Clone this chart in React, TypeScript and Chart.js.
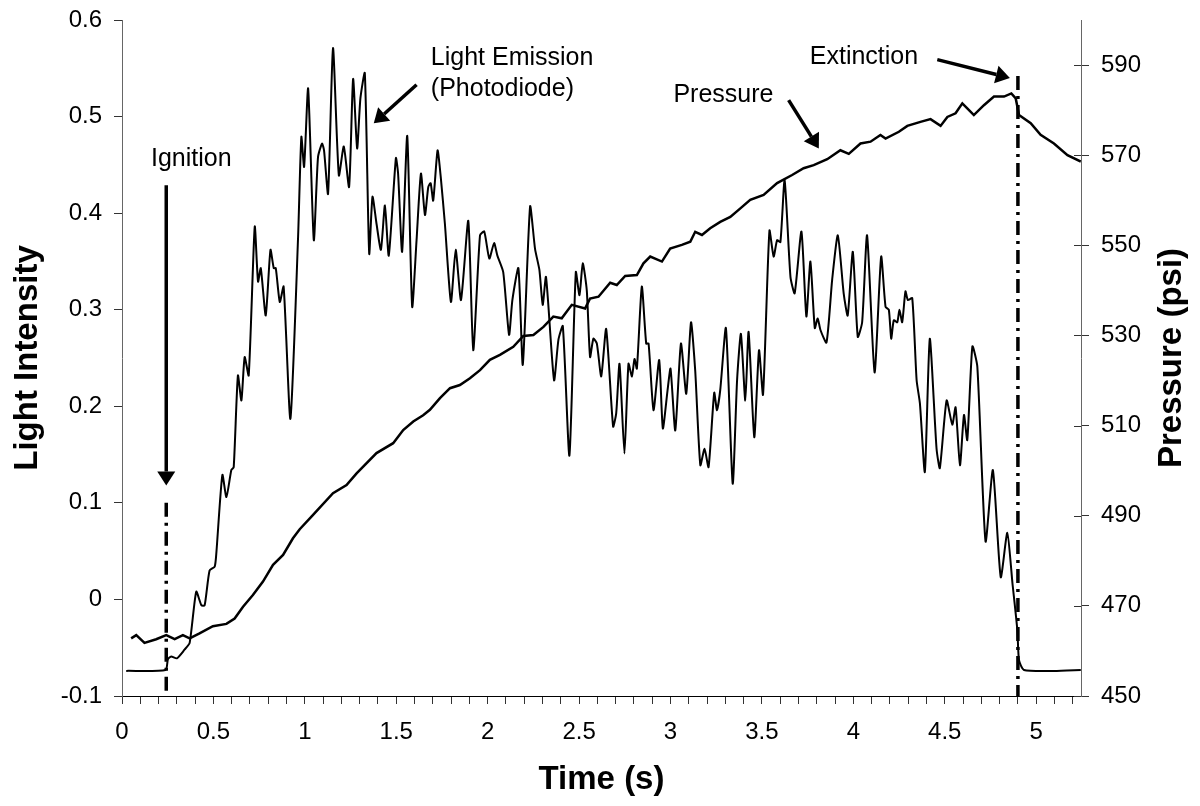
import React, { useEffect, useRef } from 'react';
import { Chart, registerables } from 'chart.js';

Chart.register(...registerables);

const FONT = '"Liberation Sans", Arial, Helvetica, sans-serif';

// ---- Light emission (photodiode), left axis ----
const lightTime = [
  0.023, 0.238, 0.251, 0.269, 0.300, 0.342, 0.370, 0.406, 0.434, 0.452,
  0.479, 0.507, 0.516, 0.549, 0.571, 0.598, 0.611, 0.634, 0.653, 0.671,
  0.693, 0.726, 0.744, 0.759, 0.786, 0.812, 0.830, 0.841, 0.863, 0.884,
  0.921, 0.963, 0.981, 0.996, 1.018, 1.049, 1.072, 1.094, 1.105, 1.127,
  1.154, 1.186, 1.213, 1.242, 1.264, 1.286, 1.304, 1.328, 1.352, 1.370,
  1.392, 1.416, 1.438, 1.459, 1.498, 1.510, 1.532, 1.560, 1.587, 1.611,
  1.635, 1.657, 1.675, 1.688, 1.702, 1.726, 1.743, 1.766, 1.799, 1.825,
  1.854, 1.894, 1.921, 1.958, 1.981, 2.009, 2.035, 2.053, 2.085, 2.117,
  2.135, 2.168, 2.192, 2.232, 2.259, 2.283, 2.301, 2.319, 2.363, 2.387,
  2.411, 2.447, 2.482, 2.502, 2.520, 2.542, 2.560, 2.578, 2.597, 2.621,
  2.648, 2.686, 2.703, 2.721, 2.748, 2.770, 2.789, 2.803, 2.816, 2.843,
  2.867, 2.880, 2.907, 2.938, 2.958, 2.984, 3.000, 3.026, 3.057, 3.086,
  3.112, 3.135, 3.163, 3.186, 3.208, 3.239, 3.254, 3.272, 3.303, 3.340,
  3.364, 3.385, 3.409, 3.427, 3.458, 3.484, 3.506, 3.541, 3.564, 3.583,
  3.601, 3.624, 3.656, 3.679, 3.716, 3.743, 3.765, 3.789, 3.805, 3.820,
  3.853, 3.884, 3.915, 3.947, 3.969, 3.997, 4.024, 4.048, 4.075, 4.116,
  4.152, 4.176, 4.194, 4.207, 4.221, 4.240, 4.252, 4.267, 4.285, 4.298,
  4.322, 4.346, 4.364, 4.391, 4.418, 4.455, 4.473, 4.510, 4.541, 4.559,
  4.583, 4.605, 4.623, 4.651, 4.678, 4.723, 4.763, 4.806, 4.842, 4.870,
  4.897, 4.906, 4.933, 5.098, 5.244,
];
const lightValue = [
  -0.074, -0.073, -0.062, -0.059, -0.061, -0.052, -0.045, 0.008, -0.006, -0.006,
  0.030, 0.034, 0.048, 0.129, 0.106, 0.134, 0.137, 0.232, 0.206, 0.251,
  0.232, 0.386, 0.329, 0.343, 0.294, 0.362, 0.343, 0.343, 0.308, 0.324,
  0.187, 0.375, 0.479, 0.448, 0.529, 0.372, 0.458, 0.472, 0.465, 0.420,
  0.571, 0.439, 0.469, 0.427, 0.539, 0.467, 0.519, 0.545, 0.358, 0.417,
  0.389, 0.362, 0.408, 0.356, 0.457, 0.441, 0.360, 0.480, 0.303, 0.372,
  0.441, 0.398, 0.427, 0.431, 0.413, 0.465, 0.438, 0.389, 0.308, 0.362,
  0.310, 0.392, 0.258, 0.377, 0.381, 0.353, 0.369, 0.356, 0.339, 0.274,
  0.310, 0.343, 0.243, 0.407, 0.363, 0.341, 0.305, 0.334, 0.227, 0.269,
  0.283, 0.149, 0.339, 0.315, 0.348, 0.320, 0.251, 0.270, 0.265, 0.231,
  0.280, 0.179, 0.193, 0.244, 0.151, 0.244, 0.231, 0.249, 0.239, 0.324,
  0.265, 0.265, 0.196, 0.248, 0.177, 0.217, 0.239, 0.175, 0.265, 0.213,
  0.287, 0.237, 0.139, 0.156, 0.137, 0.214, 0.196, 0.217, 0.281, 0.120,
  0.227, 0.275, 0.206, 0.277, 0.168, 0.258, 0.212, 0.382, 0.355, 0.372,
  0.370, 0.434, 0.334, 0.317, 0.381, 0.293, 0.350, 0.281, 0.291, 0.279,
  0.266, 0.331, 0.377, 0.317, 0.294, 0.360, 0.272, 0.287, 0.377, 0.235,
  0.355, 0.303, 0.300, 0.270, 0.289, 0.287, 0.300, 0.287, 0.319, 0.310,
  0.312, 0.227, 0.203, 0.132, 0.270, 0.156, 0.136, 0.206, 0.181, 0.199,
  0.139, 0.191, 0.165, 0.262, 0.241, 0.060, 0.134, 0.023, 0.069, 0.017,
  -0.032, -0.063, -0.073, -0.074, -0.073,
];

// ---- Pressure (psi), right axis ----
const pressureTime = [
  0.050, 0.078, 0.123, 0.187, 0.242, 0.288, 0.333, 0.370, 0.424, 0.497,
  0.571, 0.616, 0.662, 0.716, 0.771, 0.826, 0.881, 0.935, 0.972, 1.045,
  1.154, 1.228, 1.283, 1.392, 1.483, 1.538, 1.593, 1.647, 1.684, 1.739,
  1.794, 1.848, 1.903, 1.958, 2.012, 2.067, 2.140, 2.195, 2.250, 2.305,
  2.359, 2.405, 2.460, 2.533, 2.560, 2.606, 2.670, 2.706, 2.752, 2.816,
  2.852, 2.889, 2.953, 2.998, 3.062, 3.108, 3.135, 3.172, 3.217, 3.272,
  3.327, 3.382, 3.436, 3.509, 3.583, 3.665, 3.728, 3.783, 3.857, 3.929,
  3.975, 4.039, 4.094, 4.148, 4.176, 4.249, 4.295, 4.367, 4.422, 4.477,
  4.514, 4.559, 4.596, 4.623, 4.659, 4.714, 4.769, 4.824, 4.864, 4.888,
  4.906, 4.970, 5.024, 5.097, 5.171, 5.244,
];
const pressureValue = [
  462.8, 463.5, 461.8, 462.6, 463.5, 462.6, 463.5, 462.8, 463.9, 465.5,
  466.0, 467.2, 469.8, 472.4, 475.4, 479.1, 481.3, 485.0, 487.0, 490.2,
  495.0, 496.8, 499.4, 503.9, 506.1, 509.0, 510.9, 512.3, 513.5, 516.1,
  518.3, 519.0, 520.5, 522.3, 524.6, 525.7, 527.5, 529.9, 530.1, 531.9,
  534.2, 533.8, 536.8, 536.0, 538.2, 538.6, 541.7, 541.2, 543.2, 543.4,
  546.0, 547.5, 546.4, 549.3, 550.1, 550.8, 553.0, 552.3, 553.8, 555.2,
  556.3, 558.2, 560.1, 561.2, 563.8, 565.6, 567.1, 567.8, 569.1, 571.1,
  570.3, 572.6, 573.0, 574.5, 573.7, 575.2, 576.5, 577.4, 578.0, 576.5,
  578.5, 579.3, 581.5, 580.4, 578.9, 581.1, 583.0, 583.0, 583.7, 582.6,
  578.9, 577.1, 574.5, 572.6, 570.0, 568.6,
];

// ---- Axes ----
const xMin = 0;
const xMax = 5.245;
const xMinorStep = 0.1;
const xLabelledTicks = [0, 0.5, 1, 1.5, 2, 2.5, 3, 3.5, 4, 4.5, 5];
const leftTicks = [-0.1, 0, 0.1, 0.2, 0.3, 0.4, 0.5, 0.6];
const rightTicks = [450, 470, 490, 510, 530, 550, 570, 590];
const rightMax = 600;

// ---- Annotations (data coordinates: time, light intensity) ----
const ignitionTime = 0.242;
const extinctionTime = 4.9;
const ignitionDashTop = 0.1;
const extinctionDashTop = 0.542;
const noteTexts = ['Ignition', 'Light Emission', '(Photodiode)', 'Pressure', 'Extinction'];
const noteTime = [0.379, 1.689, 1.689, 3.016, 4.058];
const noteValue = [0.449, 0.553, 0.521, 0.515, 0.554];
const noteAlign = ['center', 'left', 'left', 'left', 'center'];
const arrowFromTime = [0.242, 1.611, 3.646, 4.459];
const arrowFromValue = [0.429, 0.533, 0.517, 0.559];
const arrowToTime = [0.242, 1.377, 3.811, 4.856];
const arrowToValue = [0.118, 0.493, 0.467, 0.540];

function drawArrow(ctx: CanvasRenderingContext2D, x1: number, y1: number, x2: number, y2: number) {
  const headLen = 14;
  const headHalf = 9;
  const ang = Math.atan2(y2 - y1, x2 - x1);
  const bx = x2 - headLen * Math.cos(ang);
  const by = y2 - headLen * Math.sin(ang);
  ctx.setLineDash([]);
  ctx.lineWidth = 3.5;
  ctx.beginPath();
  ctx.moveTo(x1, y1);
  ctx.lineTo(bx, by);
  ctx.stroke();
  ctx.beginPath();
  ctx.moveTo(x2, y2);
  ctx.lineTo(bx + headHalf * Math.sin(ang), by - headHalf * Math.cos(ang));
  ctx.lineTo(bx - headHalf * Math.sin(ang), by + headHalf * Math.cos(ang));
  ctx.closePath();
  ctx.fill();
}

const annotationPlugin = {
  id: 'combustionAnnotations',
  afterDatasetsDraw(chart: any) {
    const { ctx, scales, chartArea } = chart;
    const x = scales.x;
    const y = scales.y;
    const y1 = scales.y1;
    const px = (t: number) => x.getPixelForValue(t);
    const py = (v: number) => y.getPixelForValue(v);
    ctx.save();
    ctx.strokeStyle = '#000';
    ctx.fillStyle = '#000';

    // dash-dot markers
    ctx.lineWidth = 3.5;
    ctx.setLineDash([14, 6, 3, 6]);
    ctx.beginPath();
    ctx.moveTo(px(ignitionTime), py(ignitionDashTop));
    ctx.lineTo(px(ignitionTime), chartArea.bottom);
    ctx.stroke();
    ctx.beginPath();
    ctx.moveTo(px(extinctionTime), py(extinctionDashTop));
    ctx.lineTo(px(extinctionTime), chartArea.bottom);
    ctx.stroke();

    // arrows
    for (let i = 0; i < arrowFromTime.length; i++) {
      drawArrow(ctx, px(arrowFromTime[i]), py(arrowFromValue[i]), px(arrowToTime[i]), py(arrowToValue[i]));
    }

    // texts
    ctx.font = `25px ${FONT}`;
    ctx.textBaseline = 'alphabetic';
    for (let i = 0; i < noteTexts.length; i++) {
      ctx.textAlign = noteAlign[i] as CanvasTextAlign;
      ctx.fillText(noteTexts[i], px(noteTime[i]), py(noteValue[i]));
    }

    // right axis ticks crossing into the plot
    ctx.setLineDash([]);
    ctx.lineWidth = 1;
    ctx.strokeStyle = '#333';
    for (const v of rightTicks) {
      const yy = Math.round(y1.getPixelForValue(v)) + 0.5;
      ctx.beginPath();
      ctx.moveTo(chartArea.right - 7, yy);
      ctx.lineTo(chartArea.right, yy);
      ctx.stroke();
    }

    // right axis title (reads bottom to top)
    ctx.fillStyle = '#000';
    ctx.font = `bold 33px ${FONT}`;
    ctx.textAlign = 'center';
    ctx.textBaseline = 'middle';
    ctx.translate(y1.right - 28, (chartArea.top + chartArea.bottom) / 2);
    ctx.rotate(-Math.PI / 2);
    ctx.fillText('Pressure (psi)', 0, 0);
    ctx.restore();
  },
};

function fmt(v: number) {
  return String(Math.round(v * 10) / 10);
}

export default function App() {
  const ref = useRef<HTMLCanvasElement>(null);
  useEffect(() => {
    Chart.defaults.font.family = FONT;
    const xTicks: number[] = [];
    for (let v = xMin; v <= 5.2 + 1e-9; v += xMinorStep) xTicks.push(Math.round(v * 10) / 10);

    const fitVertical = (w: number) => (s: any) => {
      s.width = w;
      s.paddingTop = 0;
      s.paddingBottom = 0;
    };

    const chart = new Chart(ref.current as HTMLCanvasElement, {
      type: 'line',
      data: {
        datasets: [
          {
            label: 'Light Emission (Photodiode)',
            data: lightTime.map((t, i) => ({ x: t, y: lightValue[i] })),
            yAxisID: 'y',
            borderColor: '#000',
            borderWidth: 2,
            pointRadius: 0,
            tension: 0.2,
            fill: false,
          },
          {
            label: 'Pressure',
            data: pressureTime.map((t, i) => ({ x: t, y: pressureValue[i] })),
            yAxisID: 'y1',
            borderColor: '#000',
            borderWidth: 2.5,
            pointRadius: 0,
            tension: 0,
            fill: false,
          },
        ],
      },
      options: {
        responsive: false,
        animation: false,
        devicePixelRatio: 1,
        layout: { padding: { top: 20, left: 0, right: 0, bottom: 0 } },
        plugins: { legend: { display: false }, tooltip: { enabled: false } },
        scales: {
          x: {
            type: 'linear',
            min: xMin,
            max: xMax,
            afterBuildTicks: (s: any) => {
              s.ticks = xTicks.map((v) => ({ value: v }));
            },
            afterFit: (s: any) => {
              s.height = 110;
              s.paddingLeft = 0;
              s.paddingRight = 0;
            },
            ticks: {
              autoSkip: false,
              maxRotation: 0,
              minRotation: 0,
              padding: 14,
              color: '#000',
              font: { size: 24 },
              callback: (v: any) =>
                xLabelledTicks.some((m) => Math.abs(m - Number(v)) < 1e-6) ? fmt(Number(v)) : '',
            },
            grid: { drawOnChartArea: false, tickLength: 8, color: '#333' },
            border: { color: '#000', width: 1 },
            title: {
              display: true,
              text: 'Time (s)',
              color: '#000',
              font: { size: 33, weight: 'bold' },
              padding: { top: 0, bottom: 6 },
            },
          },
          y: {
            type: 'linear',
            position: 'left',
            min: -0.1,
            max: 0.6,
            afterBuildTicks: (s: any) => {
              s.ticks = leftTicks.map((v) => ({ value: v }));
            },
            afterFit: fitVertical(122),
            ticks: { padding: 12, color: '#000', font: { size: 24 }, callback: (v: any) => fmt(Number(v)) },
            grid: { drawOnChartArea: false, tickLength: 8, color: '#333' },
            border: { color: '#666', width: 1 },
            title: {
              display: true,
              text: 'Light Intensity',
              color: '#000',
              font: { size: 33, weight: 'bold' },
              padding: { top: 8, bottom: 0 },
            },
          },
          y1: {
            type: 'linear',
            position: 'right',
            min: 450,
            max: rightMax,
            afterBuildTicks: (s: any) => {
              s.ticks = rightTicks.map((v) => ({ value: v }));
            },
            afterFit: fitVertical(119),
            ticks: { padding: 12, color: '#000', font: { size: 24 }, callback: (v: any) => String(v) },
            grid: { drawOnChartArea: false, tickLength: 8, color: '#333' },
            border: { color: '#666', width: 1 },
            title: { display: false },
          },
        },
      } as any,
      plugins: [annotationPlugin],
    });
    return () => chart.destroy();
  }, []);

  return (
    <div style={{ position: 'fixed', left: 0, top: 0, width: 1200, height: 806, background: '#fff' }}>
      <canvas ref={ref} width={1200} height={806} style={{ display: 'block', width: 1200, height: 806 }} />
    </div>
  );
}
